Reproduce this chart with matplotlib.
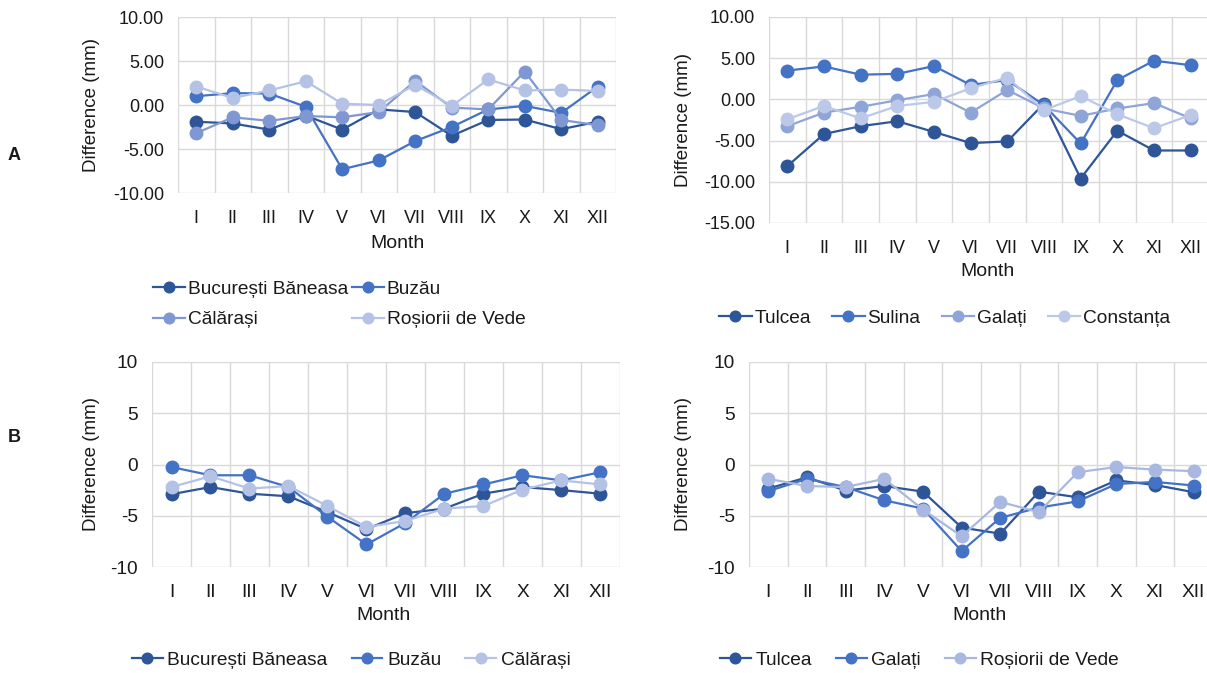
import matplotlib
matplotlib.use("Agg")
import matplotlib.pyplot as plt
from matplotlib.ticker import FormatStrFormatter

plt.rcParams['font.family'] = ['Liberation Sans', 'DejaVu Sans']
plt.rcParams['text.color'] = '#1a1a1a'

# luni (categorii)
luni = ["I", "II", "III", "IV", "V", "VI", "VII", "VIII", "IX", "X", "XI", "XII"]

# panou A stanga
a1_nume = ["București Băneasa", "Buzău", "Călărași", "Roșiorii de Vede"]
a1_bucuresti = [-1.9, -2.1, -2.8, -1.2, -2.8, -0.5, -0.8, -3.5, -1.7, -1.65, -2.75, -1.9]
a1_buzau = [1.0, 1.35, 1.3, -0.2, -7.3, -6.3, -4.1, -2.5, -0.5, -0.1, -0.9, 2.1]
a1_calarasi = [-3.2, -1.4, -1.8, -1.25, -1.4, -0.8, 2.75, -0.3, -0.5, 3.8, -1.7, -2.3]
a1_rosiori = [2.1, 0.8, 1.65, 2.7, 0.15, 0.0, 2.3, -0.1, 2.9, 1.65, 1.75, 1.6]

# panou A dreapta
a2_nume = ["Tulcea", "Sulina", "Galați", "Constanța"]
a2_tulcea = [-8.1, -4.2, -3.25, -2.65, -3.95, -5.3, -5.1, -0.5, -9.6, -3.8, -6.2, -6.2]
a2_sulina = [3.5, 4.0, 3.0, 3.1, 4.05, 1.75, 2.35, -0.7, -5.35, 2.35, 4.7, 4.15]
a2_galati = [-3.25, -1.6, -0.9, -0.1, 0.65, -1.6, 1.15, -1.1, -2.0, -1.1, -0.45, -2.3]
a2_constanta = [-2.4, -0.8, -2.3, -0.8, -0.3, 1.35, 2.65, -1.3, 0.4, -1.8, -3.5, -1.9]

# panou B stanga
b1_nume = ["București Băneasa", "Buzău", "Călărași"]
b1_bucuresti = [-2.9, -2.2, -2.85, -3.1, -4.65, -6.3, -4.75, -4.3, -2.85, -2.2, -2.5, -2.85]
b1_buzau = [-0.25, -1.05, -1.05, -2.2, -5.1, -7.8, -5.7, -2.85, -1.95, -1.05, -1.55, -0.75]
b1_calarasi = [-2.2, -1.15, -2.35, -2.1, -4.05, -6.1, -5.5, -4.3, -4.05, -2.45, -1.55, -1.95]

# panou B dreapta
b2_nume = ["Tulcea", "Galați", "Roșiorii de Vede"]
b2_tulcea = [-2.35, -1.25, -2.55, -2.1, -2.65, -6.15, -6.75, -2.65, -3.2, -1.55, -2.0, -2.7]
b2_galati = [-2.6, -1.4, -2.2, -3.5, -4.3, -8.45, -5.2, -4.2, -3.6, -1.9, -1.7, -2.05]
b2_rosiori = [-1.4, -2.1, -2.2, -1.4, -4.4, -7.0, -3.65, -4.65, -0.75, -0.25, -0.5, -0.65]

W, H = 1207, 673
fig = plt.figure(figsize=(W / 100, H / 100), dpi=100)

def px_ax(left, top, right, bottom):
    return fig.add_axes([left / W, 1 - bottom / H, (right - left) / W, (bottom - top) / H])

def deseneaza(ax, serii, culori, nume, ymin, ymax, fmt, fs):
    x = list(range(1, 13))
    linii = []
    for s, c, n in zip(serii, culori, nume):
        l, = ax.plot(x, s, color=c, lw=1.6, marker='o', ms=9, label=n, zorder=3)
        linii.append(l)
    ax.set_xlim(0.5, 12.5)
    ax.set_ylim(ymin, ymax)
    ax.set_yticks(range(ymin, ymax + 1, 5))
    ax.yaxis.set_major_formatter(FormatStrFormatter(fmt))
    ax.set_xticks(x)
    ax.set_xticklabels(luni)
    ax.set_xticks([i + 0.5 for i in range(0, 13)], minor=True)
    ax.grid(True, axis='y', which='major', color='#d9d9d9', lw=1)
    ax.grid(True, axis='x', which='minor', color='#d9d9d9', lw=1)
    ax.set_axisbelow(True)
    for sp in ax.spines.values():
        sp.set_visible(False)
    ax.tick_params(which='both', length=0, labelsize=fs, colors='#1a1a1a')
    ax.tick_params(axis='x', pad=12)
    ax.tick_params(axis='y', pad=10)
    return linii

culori4 = ['#2e5597', '#4472c4', '#7f97d3', '#b4c3e5']
culori4b = ['#2e5597', '#4472c4', '#8fa5d8', '#bcc8e8']
culori3 = ['#2e5597', '#4472c4', '#b4c3e5']
culori3b = ['#2e5597', '#4472c4', '#a9b8e0']

ax1 = px_ax(178, 17, 616, 193)
l1 = deseneaza(ax1, [a1_bucuresti, a1_buzau, a1_calarasi, a1_rosiori], culori4, a1_nume, -10, 10, '%.2f', 13)
ax2 = px_ax(769, 17, 1209, 223)
l2 = deseneaza(ax2, [a2_tulcea, a2_sulina, a2_galati, a2_constanta], culori4b, a2_nume, -15, 10, '%.2f', 13)
ax3 = px_ax(152, 362, 620, 567)
l3 = deseneaza(ax3, [b1_bucuresti, b1_buzau, b1_calarasi], culori3, b1_nume, -10, 10, '%d', 13.8)
ax4 = px_ax(749, 362, 1213, 567)
l4 = deseneaza(ax4, [b2_tulcea, b2_galati, b2_rosiori], culori3b, b2_nume, -10, 10, '%d', 13.8)

# etichete axe
for (x, y) in [(92, 105), (683, 120), (92, 464), (683, 464)]:
    fig.text(x / W, 1 - y / H, "Difference (mm)", rotation=90, ha='center', va='center', fontsize=13.5)
for (x, y) in [(397, 243), (988, 271), (384, 615), (980, 615)]:
    fig.text(x / W, 1 - y / H, "Month", ha='center', va='center', fontsize=14)

fig.text(14 / W, 1 - 155 / H, "A", ha='center', va='center', fontsize=13, fontweight='bold')
fig.text(14 / W, 1 - 437 / H, "B", ha='center', va='center', fontsize=13, fontweight='bold')

leg_kw = dict(frameon=False, borderpad=0, borderaxespad=0, markerscale=0.85, loc='center left')

# legenda A stanga: 2 coloane, ordine pe randuri
ord1 = [l1[0], l1[2], l1[1], l1[3]]
fig.legend(ord1, [l.get_label() for l in ord1], ncol=2, fontsize=13.8, handlelength=1.67,
           handletextpad=0.15, columnspacing=0.2, labelspacing=0.67,
           bbox_to_anchor=(153 / W, 1 - 304.5 / H), **leg_kw)
fig.legend(l2, a2_nume, ncol=4, fontsize=13.8, handlelength=1.7, handletextpad=0.15,
           columnspacing=1.1, bbox_to_anchor=(719 / W, 1 - 318 / H), **leg_kw)
fig.legend(l3, b1_nume, ncol=3, fontsize=13.8, handlelength=1.6, handletextpad=0.25,
           columnspacing=1.25, bbox_to_anchor=(132 / W, 1 - 660 / H), **leg_kw)
fig.legend(l4, b2_nume, ncol=3, fontsize=13.8, handlelength=1.6, handletextpad=0.25,
           columnspacing=1.25, bbox_to_anchor=(720 / W, 1 - 660 / H), **leg_kw)

fig.savefig("out.png", dpi=100)
